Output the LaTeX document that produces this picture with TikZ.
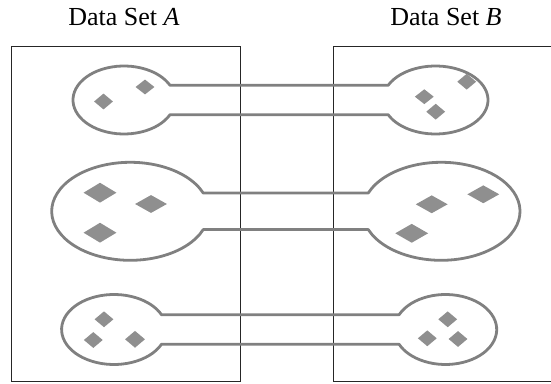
\documentclass[tikz,border=0pt]{standalone}
\usepackage{fontspec}
\setmainfont{Liberation Serif}
\usetikzlibrary{calc,shapes.geometric}
\definecolor{blobline}{RGB}{128,128,128}
\definecolor{dia}{RGB}{143,143,143}
\begin{document}
\begin{tikzpicture}[x=1pt,y=1pt,
  title/.style={anchor=base,inner sep=0pt,font=\fontsize{26}{30}\selectfont},
  setbox/.style={draw=black!85,line width=0.9pt},
  blob/.style={draw=blobline,line width=2.8pt,line join=round},
  sdia/.style={diamond,fill=dia,draw=none,inner sep=0pt,minimum width=19pt,minimum height=16pt},
  bdia/.style={diamond,fill=dia,draw=none,inner sep=0pt,minimum width=33pt,minimum height=19pt}]
\useasboundingbox (0,0) rectangle (551,383);
% titles
\node[title] (tA) at (124,357) {Data Set \textit{A}};
\node[title] (tB) at (446,357) {Data Set \textit{B}};
% set boxes
\draw[setbox] (11.6,1.5) rectangle (240,336.3);
\draw[setbox] (575,336.3) -- (333,336.3) -- (333,1.5) -- (575,1.5);
% ---- row 1
\coordinate (L1) at (124,283);
\coordinate (R1) at (435.5,283);
\coordinate (L1t) at ($(L1)+(25.6:51 and 34)$);
\coordinate (L1b) at ($(L1)+(-25.6:51 and 34)$);
\coordinate (R1t) at ($(R1)+(154.4:52.5 and 34)$);
\coordinate (R1b) at ($(R1)+(-154.4:52.5 and 34)$);
\draw[blob] (L1t) -- (R1t) arc[start angle=154.4,end angle=-154.4,x radius=52.5,y radius=34]
  -- (L1b) arc[start angle=-25.6,end angle=-334.4,x radius=51,y radius=34] -- cycle;
% ---- row 2
\coordinate (L2) at (130.3,171.7);
\coordinate (R2) at (441.3,171.7);
\coordinate (L2t) at ($(L2)+(21.9:78.6 and 49)$);
\coordinate (L2b) at ($(L2)+(-21.9:78.6 and 49)$);
\coordinate (R2t) at ($(R2)+(158.1:78.7 and 49)$);
\coordinate (R2b) at ($(R2)+(-158.1:78.7 and 49)$);
\draw[blob] (L2t) -- (R2t) arc[start angle=158.1,end angle=-158.1,x radius=78.7,y radius=49]
  -- (L2b) arc[start angle=-21.9,end angle=-338.1,x radius=78.6,y radius=49] -- cycle;
% ---- row 3
\coordinate (L3) at (114,53.5);
\coordinate (R3) at (445.5,53.5);
\coordinate (L3t) at ($(L3)+(24.9:52.4 and 35)$);
\coordinate (L3b) at ($(L3)+(-24.9:52.4 and 35)$);
\coordinate (R3t) at ($(R3)+(155.1:51.2 and 35)$);
\coordinate (R3b) at ($(R3)+(-155.1:51.2 and 35)$);
\draw[blob] (L3t) -- (R3t) arc[start angle=155.1,end angle=-155.1,x radius=51.2,y radius=35]
  -- (L3b) arc[start angle=-24.9,end angle=-335.1,x radius=52.4,y radius=35] -- cycle;
% ---- diamonds
\node[sdia] (d1) at (103.5,281.5) {};
\node[sdia,minimum height=15pt] (d2) at (145,296) {};
\node[sdia] (d3) at (466.7,301.3) {};
\node[sdia,minimum height=15pt] (d4) at (424.3,286.3) {};
\node[sdia] (d5) at (435.7,271.3) {};
\node[bdia,minimum height=20pt] (d6) at (100,190.3) {};
\node[bdia,minimum width=32pt,minimum height=18pt] (d7) at (151,179) {};
\node[bdia,minimum height=20pt] (d8) at (100,150.3) {};
\node[bdia,minimum width=32pt,minimum height=18pt] (d9) at (483.3,188.7) {};
\node[bdia,minimum width=32pt,minimum height=18pt] (d10) at (431.7,178.7) {};
\node[bdia] (d11) at (411.7,149.7) {};
\node[sdia] (d12) at (104,63.7) {};
\node[sdia] (d13) at (93.3,43) {};
\node[sdia,minimum width=20pt,minimum height=17pt] (d14) at (135,43.7) {};
\node[sdia] (d15) at (447.7,63.7) {};
\node[sdia] (d16) at (427.3,44.7) {};
\node[sdia] (d17) at (458,44) {};
\end{tikzpicture}
\end{document}
